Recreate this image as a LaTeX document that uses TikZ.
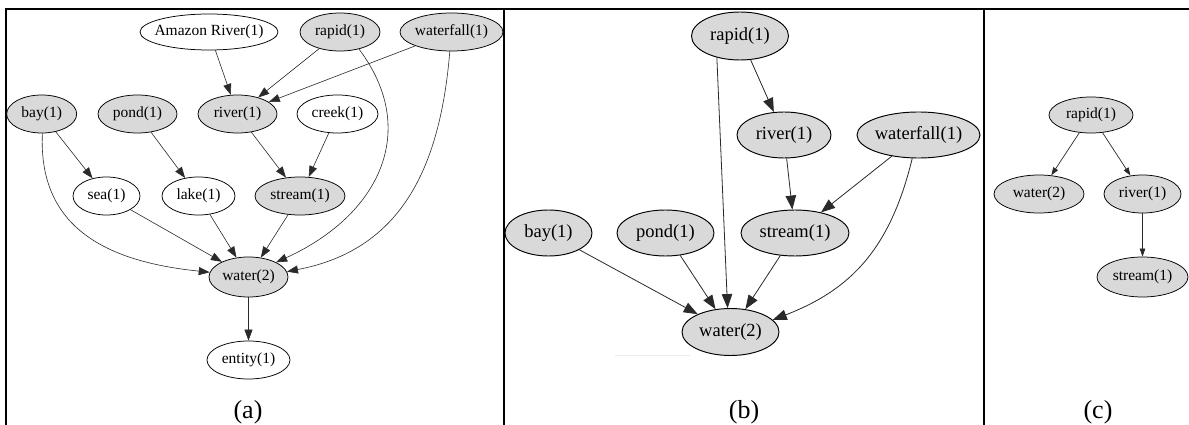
\documentclass[tikz,border=0pt]{standalone}
\usepackage{fontspec}
\setmainfont{Liberation Serif}
\usetikzlibrary{shapes.geometric,arrows.meta}
\newcommand\mytxt[1]{\makebox[0pt]{#1}}
\definecolor{nodegray}{HTML}{D9D9D9}
\definecolor{edgecol}{HTML}{2A2A2A}
\begin{document}
\begin{tikzpicture}[x=1pt,y=1pt,
  ell/.style={ellipse, draw=black, inner sep=0pt, line width=0.75pt},
  gn/.style={ell, fill=nodegray},
  wn/.style={ell, fill=white},
  pa/.style={minimum height=38pt, font=\fontsize{15.5}{18}\selectfont},
  pb/.style={minimum height=46pt, line width=0.95pt, font=\fontsize{18.5}{22}\selectfont},
  pc/.style={minimum height=38pt, font=\fontsize{15.5}{18}\selectfont},
  ea/.style={draw=edgecol, line width=0.6pt, -{Triangle[length=11pt,width=8pt]}},
  eb/.style={draw=edgecol, line width=0.8pt, -{Triangle[length=14pt,width=10.5pt]}},
  ec/.style={draw=edgecol, line width=0.7pt, -{Triangle[length=8pt,width=5.5pt]}},
  framel/.style={line width=2pt, draw=black},
  capt/.style={anchor=base, font=\fontsize{26}{30}\selectfont},
]
\fill[white] (0,0) rectangle (1189,-425);
\useasboundingbox (0,0) rectangle (1189,-425);

% frame
\draw[framel] (5,-9) -- (1189,-9);
\draw[framel] (6,-9) -- (6,-425);
\draw[framel] (504,-9) -- (504,-425);
\draw[framel] (984,-9) -- (984,-425);

% ---------------- panel (a)
\node[wn,pa,minimum width=138pt,minimum height=36pt] (amazon) at (209,-32) {\mytxt{Amazon River(1)}};
\node[gn,pa,minimum width=80pt]  (rapida) at (340,-32) {\mytxt{rapid(1)}};
\node[gn,pa,minimum width=103pt] (wfa)    at (451.5,-32) {\mytxt{waterfall(1)}};
\node[gn,pa,minimum width=70pt]  (baya)   at (41.7,-114) {\mytxt{bay(1)}};
\node[gn,pa,minimum width=79pt]  (ponda)  at (137.5,-114) {\mytxt{pond(1)}};
\node[gn,pa,minimum width=79pt]  (rivera) at (237.5,-114) {\mytxt{river(1)}};
\node[wn,pa,minimum width=81pt]  (creeka) at (337.5,-114) {\mytxt{creek(1)}};
\node[wn,pa,minimum width=67pt]  (seaa)   at (106.5,-196) {\mytxt{sea(1)}};
\node[wn,pa,minimum width=73pt]  (lakea)  at (198.5,-196) {\mytxt{lake(1)}};
\node[gn,pa,minimum width=90pt]  (streama) at (300,-196) {\mytxt{stream(1)}};
\node[gn,pa,minimum width=79pt,minimum height=40pt]  (watera) at (248.5,-277) {\mytxt{water(2)}};
\node[wn,pa,minimum width=83pt]  (entitya) at (248.5,-360) {\mytxt{entity(1)}};

\draw[ea] (amazon) -- (rivera);
\draw[ea] (rapida) -- (rivera);
\draw[ea] (wfa) -- (rivera);
\draw[ea] (rapida.-42) .. controls (420,-130) and (380,-215) .. (watera.28);
\draw[ea] (wfa.-95) .. controls (440,-170) and (400,-250) .. (watera.8);
\draw[ea] (baya.-88) .. controls (38,-230) and (110,-262) .. (watera.173);
\draw[ea] (baya) -- (seaa);
\draw[ea] (ponda) -- (lakea);
\draw[ea] (rivera) -- (streama);
\draw[ea] (creeka) -- (streama);
\draw[ea] (seaa) -- (watera);
\draw[ea] (lakea) -- (watera);
\draw[ea] (streama) -- (watera);
\draw[ea] (watera) -- (entitya);
\node[capt] (capa) at (248,-418) {(a)};

% ---------------- panel (b)
\draw[gray!15, line width=0.6pt] (615,-355) -- (690,-355);
\node[gn,pb,minimum width=97pt,minimum height=48pt] (rapidb) at (740,-36) {\mytxt{rapid(1)}};
\node[gn,pb,minimum width=94pt]  (riverb)  at (784,-135) {\mytxt{river(1)}};
\node[gn,pb,minimum width=123pt] (wfb)     at (918.5,-135) {\mytxt{waterfall(1)}};
\node[gn,pb,minimum width=87pt]  (bayb)    at (548.5,-233) {\mytxt{bay(1)}};
\node[gn,pb,minimum width=97pt]  (pondb)   at (665.5,-233) {\mytxt{pond(1)}};
\node[gn,pb,minimum width=108pt] (streamb) at (795,-233) {\mytxt{stream(1)}};
\node[gn,pb,minimum width=97pt,minimum height=47pt] (waterb) at (730.5,-332) {\mytxt{water(2)}};

\draw[eb] (rapidb) -- (riverb);
\draw[eb] (rapidb.-137) -- (waterb.97);
\draw[eb] (riverb) -- (streamb);
\draw[eb] (wfb) -- (streamb);
\draw[eb] (wfb.-105) .. controls (890,-250) and (850,-290) .. (waterb.16);
\draw[eb] (bayb) -- (waterb);
\draw[eb] (pondb) -- (waterb);
\draw[eb] (streamb) -- (waterb);
\node[capt] (capb) at (744,-418) {(b)};

% ---------------- panel (c)
\node[gn,pc,minimum width=84pt,minimum height=36pt] (rapidc) at (1091,-115) {\mytxt{rapid(1)}};
\node[gn,pc,minimum width=90pt]  (waterc)  at (1039,-194) {\mytxt{water(2)}};
\node[gn,pc,minimum width=77pt]  (riverc)  at (1142.5,-194) {\mytxt{river(1)}};
\node[gn,pc,minimum width=91pt,minimum height=40pt] (streamc) at (1142.5,-277) {\mytxt{stream(1)}};

\draw[ec] (rapidc) -- (waterc);
\draw[ec] (rapidc) -- (riverc);
\draw[ec] (riverc) -- (streamc);
\node[capt] (capc) at (1098,-418) {(c)};
\end{tikzpicture}
\end{document}
